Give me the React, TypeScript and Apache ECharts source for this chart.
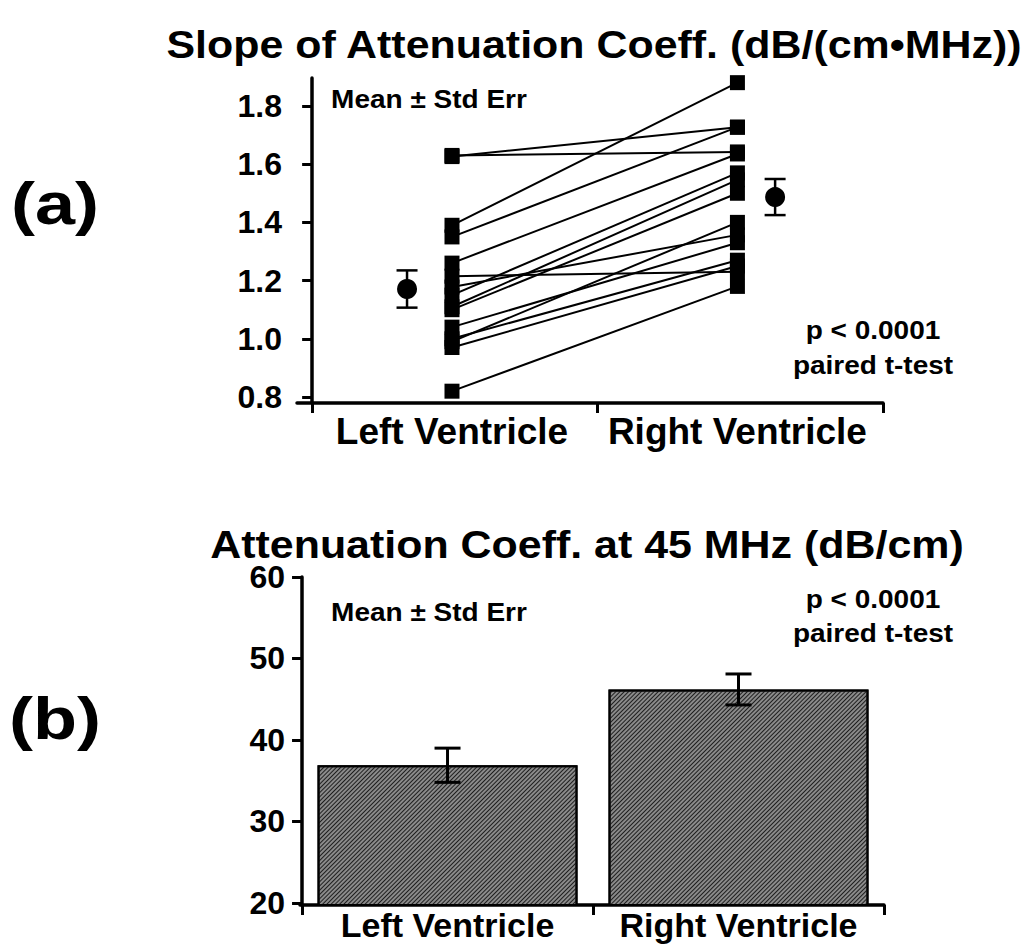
import React, { useEffect, useRef } from "react";
import * as echarts from "echarts";

// ---- Panel (a): slope of attenuation coefficient, paired subjects ----
const leftSlope = [1.626, 1.63, 1.39, 1.35, 1.26, 1.215, 1.178, 1.15, 1.11, 1.1, 0.99, 1.04, 1.0, 0.97, 0.82];
const rightSlope = [1.727, 1.642, 1.88, 1.727, 1.635, 1.23, 1.357, 1.57, 1.546, 1.5, 1.4, 1.33, 1.27, 1.25, 1.18];
const slopeMeans = [1.171, 1.487];
const slopeErrs = [0.064, 0.062];
const slopeTicks = [0.8, 1.0, 1.2, 1.4, 1.6, 1.8];

// ---- Panel (b): attenuation coefficient at 45 MHz ----
const categories = ["Left Ventricle", "Right Ventricle"];
const atten45 = [36.9, 46.2];
const atten45Err = [2.1, 1.9];
const attenTicks = [20, 30, 40, 50, 60];

// x positions on the value-type x axes (group boundaries at 0, 1, 2)
const PAIR_X = [0.49, 1.49];
const MEAN_X = [0.3325, 1.622];
const BAR_X = [0.5, 1.5];
const GROUP_EDGES = [0, 1, 2];

const FONT = "Liberation Sans";

export default function App() {
  const ref = useRef<HTMLDivElement>(null);
  useEffect(() => {
    if (!ref.current) return;
    const chart = echarts.init(ref.current, null, { renderer: "svg" });

    const axisLineStyle = { color: "#000", width: 3.5 };
    const tickStyle = { color: "#000", width: 3 };

    const pairSeries = leftSlope.map((l, i) => ({
      type: "line",
      xAxisIndex: 0,
      yAxisIndex: 0,
      data: [
        [PAIR_X[0], l],
        [PAIR_X[1], rightSlope[i]],
      ],
      symbol: "rect",
      symbolSize: 15,
      itemStyle: { color: "#000" },
      lineStyle: { color: "#000", width: 2 },
      silent: true,
      z: 3,
    }));

    const errRender = (capHalf: number, lw: number) => (params: any, api: any) => {
      const x = api.value(0);
      const lo = api.value(2);
      const hi = api.value(3);
      const top = api.coord([x, hi]);
      const bot = api.coord([x, lo]);
      const cx = top[0];
      const st = { stroke: "#000", lineWidth: lw };
      return {
        type: "group",
        children: [
          { type: "line", shape: { x1: cx, y1: top[1], x2: cx, y2: bot[1] }, style: st },
          { type: "line", shape: { x1: cx - capHalf, y1: top[1], x2: cx + capHalf, y2: top[1] }, style: st },
          { type: "line", shape: { x1: cx - capHalf, y1: bot[1], x2: cx + capHalf, y2: bot[1] }, style: st },
        ],
      };
    };

    const txt = (
      text: string,
      x: number,
      y: number,
      size: number,
      sx = 1,
      align = "center"
    ) => ({
      type: "text",
      x,
      y,
      scaleX: sx,
      style: {
        text,
        fontFamily: FONT,
        fontWeight: "bold",
        fontSize: size,
        fill: "#000",
        align,
        verticalAlign: "middle",
      },
      z: 10,
    });

    const catLabel = (positions: number[], margin: number, size: number) => ({
      customValues: positions,
      formatter: (v: number) => (v < 1 ? categories[0] : categories[1]),
      fontFamily: FONT,
      fontWeight: "bold",
      fontSize: size,
      lineHeight: size,
      color: "#000",
      margin,
    });

    const numLabel = (ticks: number[], fmt?: (v: number) => string) => ({
      customValues: ticks,
      formatter: fmt,
      fontFamily: FONT,
      fontWeight: "bold",
      fontSize: 32,
      color: "#000",
      margin: 15,
    });

    chart.setOption({
      animation: false,
      backgroundColor: "#fff",
      grid: [
        { left: 297, right: 139, top: 78, bottom: 541 },
        { left: 300, right: 138, top: 577, bottom: 39 },
      ],
      xAxis: [
        {
          gridIndex: 0,
          type: "value",
          min: -0.053,
          max: 2,
          splitLine: { show: false },
          axisLine: { show: true, lineStyle: axisLineStyle },
          axisTick: { show: true, length: 10, lineStyle: tickStyle, customValues: GROUP_EDGES },
          axisLabel: catLabel(PAIR_X, 10, 37),
        },
        {
          gridIndex: 1,
          type: "value",
          min: -0.007,
          max: 2,
          splitLine: { show: false },
          axisLine: { show: true, lineStyle: axisLineStyle },
          axisTick: { show: true, length: 10, lineStyle: tickStyle, customValues: GROUP_EDGES },
          axisLabel: catLabel(BAR_X, 3, 34),
        },
      ],
      yAxis: [
        {
          gridIndex: 0,
          type: "value",
          min: 0.7794,
          max: 1.896,
          splitLine: { show: false },
          axisLine: { show: true, lineStyle: axisLineStyle },
          axisTick: { show: true, length: 10, lineStyle: tickStyle, customValues: slopeTicks },
          axisLabel: numLabel(slopeTicks, (v: number) => v.toFixed(1)),
        },
        {
          gridIndex: 1,
          type: "value",
          min: 19.75,
          max: 60,
          splitLine: { show: false },
          axisLine: { show: true, lineStyle: axisLineStyle },
          axisTick: { show: true, length: 10, lineStyle: tickStyle, customValues: attenTicks },
          axisLabel: numLabel(attenTicks),
        },
      ],
      series: [
        ...pairSeries,
        {
          type: "custom",
          xAxisIndex: 0,
          yAxisIndex: 0,
          renderItem: errRender(10.5, 2.5),
          data: slopeMeans.map((m, i) => [MEAN_X[i], m, m - slopeErrs[i], m + slopeErrs[i]]),
          silent: true,
          z: 4,
        },
        {
          type: "scatter",
          xAxisIndex: 0,
          yAxisIndex: 0,
          symbol: "circle",
          symbolSize: 20,
          itemStyle: { color: "#000", opacity: 1 },
          data: slopeMeans.map((m, i) => [MEAN_X[i], m]),
          silent: true,
          z: 5,
        },
        {
          type: "bar",
          xAxisIndex: 1,
          yAxisIndex: 1,
          barWidth: 260,
          data: atten45.map((v, i) => [BAR_X[i], v]),
          itemStyle: {
            color: "#8a8a8a",
            borderColor: "#000",
            borderWidth: 2,
            decal: {
              symbol: "rect",
              symbolSize: 1,
              color: "#1e1e1e",
              dashArrayX: [1, 0],
              dashArrayY: [1, 2],
              rotation: -Math.PI / 4,
            },
          },
          silent: true,
          z: 2,
        },
        {
          type: "custom",
          xAxisIndex: 1,
          yAxisIndex: 1,
          renderItem: errRender(13, 3),
          data: atten45.map((m, i) => [BAR_X[i], m, m - atten45Err[i], m + atten45Err[i]]),
          silent: true,
          z: 6,
        },
      ],
      graphic: [
        txt("Slope of Attenuation Coeff. (dB/(cm\u2022MHz))", 594, 45, 38, 1.13),
        txt("(a)", 55, 203, 60, 1.2),
        txt("Mean \u00b1 Std Err", 429, 100, 25, 1.12),
        txt("p < 0.0001", 873, 331, 25, 1.12),
        txt("paired t-test", 873, 366, 25, 1.12),
        txt("Attenuation Coeff. at 45 MHz (dB/cm)", 587, 545, 38, 1.13),
        txt("(b)", 55, 718, 60, 1.2),
        txt("Mean \u00b1 Std Err", 429, 613, 25, 1.12),
        txt("p < 0.0001", 873, 600, 25, 1.12),
        txt("paired t-test", 873, 634, 25, 1.12),
      ],
    });

    return () => chart.dispose();
  }, []);

  return (
    <div
      ref={ref}
      style={{ position: "fixed", left: 0, top: 0, width: 1022, height: 944, background: "#fff" }}
    />
  );
}
